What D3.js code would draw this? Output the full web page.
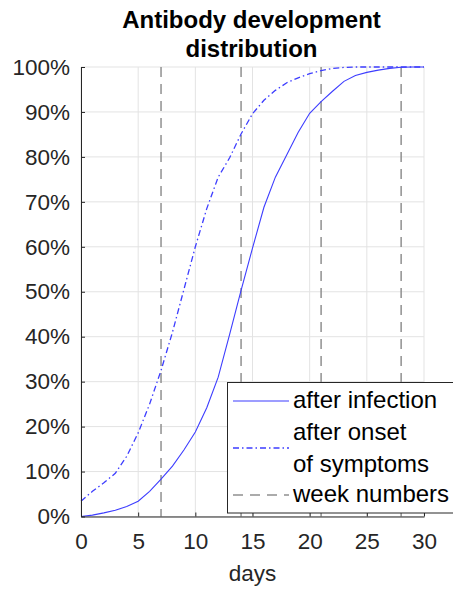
<!DOCTYPE html>
<html>
<head>
<meta charset="utf-8">
<script src="https://cdn.jsdelivr.net/npm/d3@7"></script>
<style>
  html, body { margin: 0; padding: 0; background: #fff; }
  svg { display: block; font-family: "Liberation Sans", Arial, sans-serif; }
</style>
</head>
<body>
<svg id="chart" width="453" height="590"></svg>
<script>
// ---- data ----
const days = d3.range(0, 31);
const afterInfection = [0, 0.3, 0.8, 1.4, 2.2, 3.4, 5.6, 8.3, 11.2, 14.8, 18.8, 24.2, 31, 40.5, 50.3, 59.7,
  68.8, 75.5, 80.5, 85.5, 89.7, 92.3, 94.6, 96.8, 98.1, 98.8, 99.3, 99.7, 99.95, 100, 100];
const afterOnset = [3.4, 5.6, 7.5, 9.6, 13.4, 18.6, 25, 32.5, 41, 50.5, 60, 68.5, 75.5, 79.8, 85.1, 89.6,
  92.6, 94.8, 96.5, 97.6, 98.5, 99.2, 99.7, 99.9, 100, 100, 100, 100, 100, 100, 100];
const weekNumbers = [7, 14, 21, 28];
const xTicks = [0, 5, 10, 15, 20, 25, 30];
const yTicks = [0, 10, 20, 30, 40, 50, 60, 70, 80, 90, 100];
const titleLines = ["Antibody development", "distribution"];
const legendLabels = [["after infection"], ["after onset", "of symptoms"], ["week numbers"]];
const xLabel = "days";

// ---- layout ----
const svg = d3.select("#chart");
const pLeft = 81, pRight = 424, pTop = 67, pBottom = 516.5;
const x = d3.scaleLinear().domain([0, 30]).range([pLeft, pRight]);
const y = d3.scaleLinear().domain([0, 100]).range([pBottom, pTop]);
const axisColor = "#262626";
const blue = "#3d3dff";

// grid
const g = svg.append("g");
g.selectAll("line.gx").data(xTicks).join("line")
  .attr("x1", d => x(d)).attr("x2", d => x(d)).attr("y1", pTop).attr("y2", pBottom)
  .attr("stroke", "#e3e3e3").attr("stroke-width", 1);
g.selectAll("line.gy").data(yTicks).join("line")
  .attr("x1", pLeft).attr("x2", pRight).attr("y1", d => y(d)).attr("y2", d => y(d))
  .attr("stroke", "#e3e3e3").attr("stroke-width", 1);

// week lines
g.selectAll("line.wk").data(weekNumbers).join("line")
  .attr("x1", d => x(d)).attr("x2", d => x(d)).attr("y1", y(100)).attr("y2", y(0))
  .attr("stroke", "#909090").attr("stroke-width", 1.5).attr("stroke-dasharray", "10,7");

// curves
const line = d3.line().x((d, i) => x(days[i])).y(d => y(d));
g.append("path").datum(afterInfection).attr("d", line)
  .attr("fill", "none").attr("stroke", blue).attr("stroke-width", 1.1);
g.append("path").datum(afterOnset).attr("d", line)
  .attr("fill", "none").attr("stroke", blue).attr("stroke-width", 1.3)
  .attr("stroke-dasharray", "6,3,1.5,3");

// axes
const xAxis = d3.axisBottom(x).tickValues(xTicks).tickSizeInner(-4).tickSizeOuter(0).tickPadding(12)
  .tickFormat(d3.format("d"));
const yAxis = d3.axisLeft(y).tickValues(yTicks).tickSizeInner(-4).tickSizeOuter(0).tickPadding(11)
  .tickFormat(d => d + "%");
const gx = svg.append("g").attr("transform", `translate(0,${pBottom})`).call(xAxis);
const gy = svg.append("g").attr("transform", `translate(${pLeft},0)`).call(yAxis);
[gx, gy].forEach(a => {
  a.select(".domain").attr("stroke", axisColor);
  a.selectAll(".tick line").attr("stroke", axisColor);
  a.selectAll(".tick text").attr("fill", axisColor)
    .style("font-size", "22.5px").style("font-family", "'Liberation Sans', Arial, sans-serif");
});
gx.selectAll(".tick text").attr("dy", "0.93em");

// x label
svg.append("text").attr("x", (pLeft + pRight) / 2).attr("y", 581).attr("text-anchor", "middle")
  .attr("fill", axisColor).style("font-size", "22.5px").text(xLabel);

// title
svg.append("g").selectAll("text").data(titleLines).join("text")
  .attr("x", (pLeft + pRight) / 2 - 1).attr("y", (d, i) => 28 + i * 29)
  .attr("text-anchor", "middle").attr("fill", "#000")
  .style("font-size", "24px").style("font-weight", "bold").text(d => d);

// legend
const lg = svg.append("g");
lg.append("rect").attr("x", 227.5).attr("y", 382.5).attr("width", 240).attr("height", 130.5)
  .attr("fill", "#fff").attr("stroke", axisColor).attr("stroke-width", 1);
const legendLineY = [401, 448, 495];
const legendTextY = [[408], [440, 471.5], [502]];
const legendDash = [null, "6,3,1.5,3", "10,7"];
const legendColor = [blue, blue, "#909090"];
const legendWidth = [1.1, 1.3, 1.5];
legendLabels.forEach((lab, i) => {
  lg.append("line").attr("x1", 233).attr("x2", 289).attr("y1", legendLineY[i]).attr("y2", legendLineY[i])
    .attr("stroke", legendColor[i]).attr("stroke-width", legendWidth[i])
    .attr("stroke-dasharray", legendDash[i]);
  lab.forEach((t, j) => {
    lg.append("text").attr("x", 293).attr("y", legendTextY[i][j]).attr("fill", "#000")
      .style("font-size", "24px").text(t);
  });
});
</script>
</body>
</html>
